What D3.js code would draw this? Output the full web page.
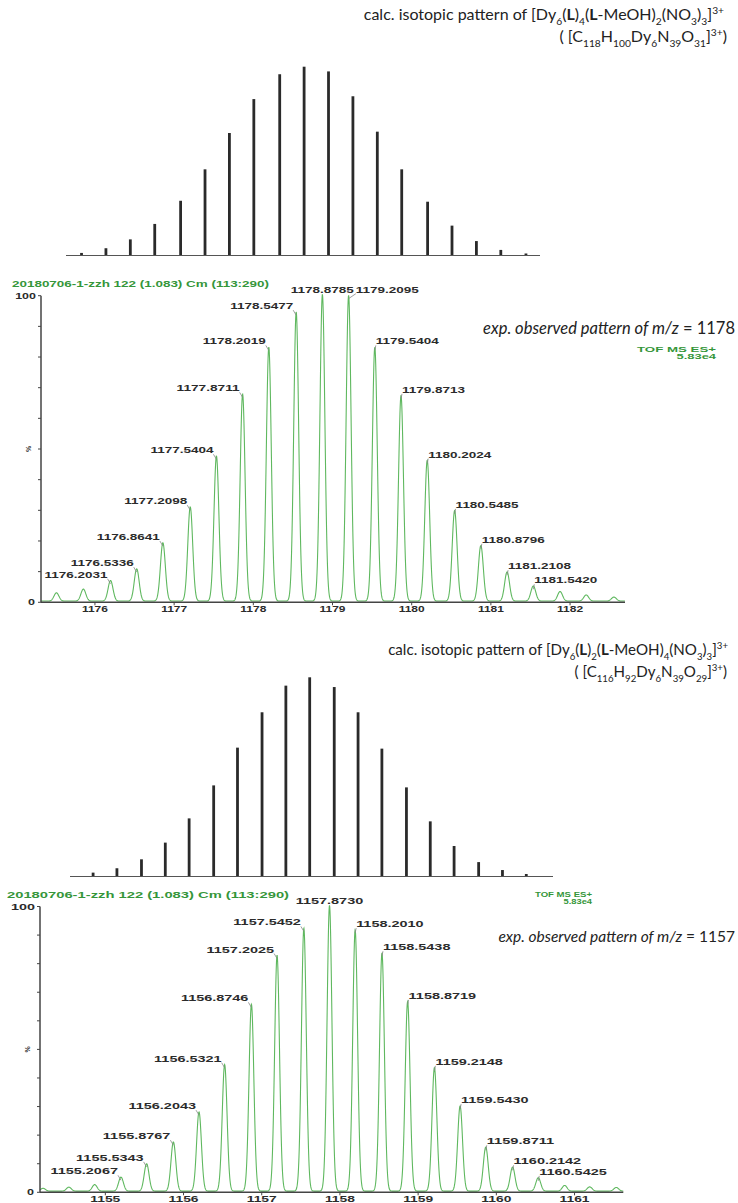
<!DOCTYPE html>
<html lang="en">
<head>
<meta charset="utf-8">
<title>Isotopic patterns: calc. vs exp.</title>
<script src="https://cdn.jsdelivr.net/npm/d3@7"></script>
<style>
  body { margin: 0; background: #fff; }
  .lbl { font-family: "Liberation Sans", Arial, sans-serif; font-weight: bold; fill: #2b2b2b; }
  .hdr { font-family: "Liberation Sans", Arial, sans-serif; font-weight: bold; fill: #35963a; }
  .cap { font-family: Lato, "Open Sans", sans-serif; fill: #222; }
</style>
</head>
<body>
<script>
// ---- panel 1 : m/z 1178 ----
var calc1Mz = [1175.87, 1176.20, 1176.53, 1176.86, 1177.21, 1177.54, 1177.87, 1178.20, 1178.55, 1178.88,
               1179.21, 1179.54, 1179.87, 1180.20, 1180.55, 1180.88, 1181.21, 1181.54, 1181.88];
var calc1Int = [1.1, 3.6, 8.3, 16.5, 28.8, 45.5, 64.8, 82.8, 96, 100,
                97.5, 84.3, 65.5, 45.5, 28.3, 15.6, 7.4, 2.7, 0.8];
var obs1Mz = [1175.52, 1175.86, 1176.2031, 1176.5336, 1176.8641, 1177.2098, 1177.5404, 1177.8711, 1178.2019,
              1178.5477, 1178.8785, 1179.2095, 1179.5404, 1179.8713, 1180.2024, 1180.5485, 1180.8796,
              1181.2108, 1181.5420, 1181.88, 1182.21, 1182.56];
var obs1Int = [2.7, 3.9, 6.7, 10.5, 19, 30.7, 47.3, 67.5, 82.8, 94.3, 100, 99.7, 82.8, 67, 45.9, 29.5,
               18.1, 9.5, 4.9, 3.1, 2, 1.3];
var obs1Labels = ["1176.2031", "1176.5336", "1176.8641", "1177.2098", "1177.5404", "1177.8711", "1178.2019",
                  "1178.5477", "1178.8785", "1179.2095", "1179.5404", "1179.8713", "1180.2024", "1180.5485",
                  "1180.8796", "1181.2108", "1181.5420"];
var ticks1 = [1176, 1177, 1178, 1179, 1180, 1181, 1182];

// ---- panel 2 : m/z 1157 ----
var calc2Mz = [1154.87, 1155.20, 1155.54, 1155.87, 1156.20, 1156.54, 1156.87, 1157.21, 1157.54, 1157.87,
               1158.21, 1158.54, 1158.87, 1159.21, 1159.54, 1159.87, 1160.21, 1160.54, 1160.87];
var calc2Int = [1.7, 3.9, 8.4, 16.8, 29.0, 45.6, 64.6, 82.4, 95.8, 100,
                95.1, 82.4, 64.1, 44.6, 27.5, 15.1, 7.0, 3.0, 1.0];
var obs2Mz = [1154.21, 1154.54, 1154.87, 1155.2067, 1155.5343, 1155.8767, 1156.2043, 1156.5321, 1156.8746,
              1157.2025, 1157.5452, 1157.8730, 1158.2010, 1158.5438, 1158.8719, 1159.2148, 1159.5430,
              1159.8711, 1160.2142, 1160.5425, 1160.88, 1161.20, 1161.54];
var obs2Int = [1, 1.4, 2.3, 4.9, 9.6, 17.2, 27.7, 44.3, 65.4, 82.5, 92, 100, 91.4, 83.3, 66.3, 43.2, 29.8,
               15.4, 8.4, 4.7, 2, 1.5, 1.3];
var obs2Labels = ["1155.2067", "1155.5343", "1155.8767", "1156.2043", "1156.5321", "1156.8746", "1157.2025",
                  "1157.5452", "1157.8730", "1158.2010", "1158.5438", "1158.8719", "1159.2148", "1159.5430",
                  "1159.8711", "1160.2142", "1160.5425"];
var ticks2 = [1155, 1156, 1157, 1158, 1159, 1160, 1161];

var runHeader = "20180706-1-zzh 122 (1.083) Cm (113:290)";

var W = 738, H = 1203;
var svg = d3.select("body").append("svg").attr("width", W).attr("height", H);

// rich text: segments [text, kind] where kind = sub | sup | b
function richText(x, y, segs, size, anchor) {
	var t = svg.append("text").attr("class", "cap").attr("x", x).attr("y", y)
		.attr("font-size", size).attr("text-anchor", anchor);
	var shift = 0;
	segs.forEach(function (s) {
		var target = s[1] == "sub" ? size * 0.3 : s[1] == "sup" ? -size * 0.38 : 0;
		var sp = t.append("tspan").attr("dy", target - shift).text(s[0]);
		shift = target;
		if (s[1] == "sub" || s[1] == "sup") sp.attr("font-size", size * 0.64);
		if (s[1] == "b") sp.attr("font-weight", "bold");
	});
	return t;
}

// MassLynx-style stretched text
function mlText(g, cls, x, y, str, size, len, anchor) {
	return g.append("text").attr("class", cls).attr("x", x).attr("y", y)
		.attr("font-size", size).attr("text-anchor", anchor || "start")
		.attr("textLength", len).attr("lengthAdjust", "spacingAndGlyphs").text(str);
}

function drawSticks(mz, inten, x0, x1, yBase, yTop, domain) {
	var xs = d3.scaleLinear().domain(domain).range([x0, x1]);
	var ys = d3.scaleLinear().domain([0, 100]).range([yBase, yTop]);
	var g = svg.append("g");
	g.append("line").attr("x1", x0).attr("x2", x1).attr("y1", yBase + 0.5).attr("y2", yBase + 0.5)
		.attr("stroke", "#555").attr("stroke-width", 1.2);
	g.selectAll("line.stick").data(mz).enter().append("line").attr("class", "stick")
		.attr("x1", d => xs(d)).attr("x2", d => xs(d))
		.attr("y1", yBase).attr("y2", (d, i) => ys(inten[i]))
		.attr("stroke", "#2a2a2a").attr("stroke-width", 2.8);
}

function drawSpectrum(c) {
	var x = d3.scaleLinear().domain(c.domain).range([c.left, c.right]);
	var y = d3.scaleLinear().domain([0, 100]).range([c.y0, c.y100]);
	var g = svg.append("g");

	// profile built from the centroid list
	var sigma = 0.031;
	var pts = d3.range(c.domain[0], c.domain[1], 0.003).map(function (m) {
		var v = 0;
		c.mz.forEach(function (p, i) {
			var d = (m - p) / sigma;
			v += c.inten[i] * Math.exp(-0.5 * d * d);
		});
		return [m, v + 0.4];
	});
	g.append("path").datum(pts)
		.attr("d", d3.line().x(d => x(d[0])).y(d => y(d[1])))
		.attr("fill", "none").attr("stroke", "#5fb85f").attr("stroke-width", 1.1);

	// axes
	g.append("line").attr("x1", c.left).attr("x2", c.left).attr("y1", c.y0).attr("y2", c.y100)
		.attr("stroke", "#444").attr("stroke-width", 1.5);
	g.append("line").attr("x1", c.left).attr("x2", c.right).attr("y1", c.y0).attr("y2", c.y0)
		.attr("stroke", "#444").attr("stroke-width", 1.5);
	g.selectAll("line.yt").data(d3.range(0, 101, 10)).enter().append("line").attr("class", "yt")
		.attr("x1", c.left - 3).attr("x2", c.left).attr("y1", d => y(d)).attr("y2", d => y(d))
		.attr("stroke", "#444");
	var xt = d3.axisBottom(x).tickValues(c.ticks).tickFormat(d3.format("d")).tickSize(3).tickPadding(0);
	var ax = g.append("g").attr("transform", "translate(0," + c.y0 + ")").call(xt);
	ax.select(".domain").remove();
	ax.selectAll("line").attr("stroke", "#444");
	ax.selectAll("text").attr("class", "lbl").attr("font-size", 8.5).attr("fill", "#2b2b2b")
		.attr("y", 9.8).attr("dy", 0)
		.attr("textLength", c.tickLen).attr("lengthAdjust", "spacingAndGlyphs");

	mlText(g, "lbl", c.left - 5, y(100) + 3, "100", 8.5, c.tickLen * 0.8, "end");
	mlText(g, "lbl", c.left - 6, y(0) + 3, "0", 8.5, 7, "end");
	g.append("text").attr("class", "lbl").attr("font-size", 7)
		.attr("transform", "translate(" + (c.left - 10) + "," + y(50) + ") rotate(-90)")
		.attr("text-anchor", "middle").text("%");

	// header
	mlText(g, "hdr", c.hdrX, c.hdrY, runHeader, 8.5, c.hdrLen);
	mlText(g, "hdr", c.tofX, c.tofY, "TOF MS ES+", 6.8, c.tofLen, "end");
	mlText(g, "hdr", c.tofX, c.tofY + 7, "5.83e4", 6.8, c.tofLen * 0.5, "end").attr("font-weight", "normal");

	// peak labels
	var imax = d3.maxIndex(c.inten);
	var maxBox = null;
	c.labels.forEach(function (lab) {
		var i = c.mz.findIndex(m => Math.abs(m - (+lab)) < 1e-6);
		var px = x(c.mz[i]), py = y(c.inten[i]);
		var w = c.labLen;
		var tx, ty = py - 4, lx1, ly1;
		if (i == imax) {
			tx = px - w / 2; ty = py - 3;
			maxBox = [tx, tx + w, ty];
			mlText(g, "lbl", tx, ty, lab, 8.5, w);
			return;
		} else if (i < imax) {
			tx = px - 3 - w; lx1 = px - 3;
		} else {
			tx = px + 1; lx1 = px + 1;
			if (maxBox && ty - maxBox[2] < 9) { tx = maxBox[1] + 2; ty = maxBox[2]; lx1 = tx; }
		}
		ly1 = ty + 1;
		mlText(g, "lbl", tx, ty, lab, 8.5, w);
		g.append("line").attr("x1", lx1).attr("y1", ly1).attr("x2", px).attr("y2", py + 2)
			.attr("stroke", "#888").attr("stroke-width", 0.8);
	});

	// caption
	var cap = g.append("text").attr("class", "cap").attr("x", c.capX).attr("y", c.capY)
		.attr("font-size", c.capSize).attr("text-anchor", "end");
	cap.append("tspan").attr("font-style", "italic").text("exp. observed pattern of m/z");
	cap.append("tspan").text(" = " + c.capNum);
}

// ---- panel 1 ----
richText(724, 20, [["calc. isotopic pattern of [Dy"], ["6", "sub"], ["("], ["L", "b"], [")"], ["4", "sub"],
	["("], ["L", "b"], ["-MeOH)"], ["2", "sub"], ["(NO"], ["3", "sub"], [")"], ["3", "sub"], ["]"], ["3+", "sup"]], 16, "end");
richText(727, 42, [["( [C"], ["118", "sub"], ["H"], ["100", "sub"], ["Dy"], ["6", "sub"], ["N"], ["39", "sub"],
	["O"], ["31", "sub"], ["]"], ["3+", "sup"], [")"]], 16, "end");
drawSticks(calc1Mz, calc1Int, 66, 540, 255, 66.7, [1175.66, 1182.07]);
drawSpectrum({
	mz: obs1Mz, inten: obs1Int, labels: obs1Labels, ticks: ticks1,
	domain: [1175.325, 1182.70], left: 41, right: 625, y0: 602.3, y100: 295.7,
	labLen: 63, tickLen: 26,
	hdrX: 12, hdrY: 287, hdrLen: 257, tofX: 716, tofY: 352, tofLen: 79,
	capX: 735, capY: 334, capSize: 16.5, capNum: "1178"
});

// ---- panel 2 ----
richText(728, 655, [["calc. isotopic pattern of [Dy"], ["6", "sub"], ["("], ["L", "b"], [")"], ["2", "sub"],
	["("], ["L", "b"], ["-MeOH)"], ["4", "sub"], ["(NO"], ["3", "sub"], [")"], ["3", "sub"], ["]"], ["3+", "sup"]], 15.1, "end");
richText(727, 677, [["( [C"], ["116", "sub"], ["H"], ["92", "sub"], ["Dy"], ["6", "sub"], ["N"], ["39", "sub"],
	["O"], ["29", "sub"], ["]"], ["3+", "sup"], [")"]], 15.1, "end");
drawSticks(calc2Mz, calc2Int, 70, 553, 876, 677.3, [1154.55, 1161.24]);
drawSpectrum({
	mz: obs2Mz, inten: obs2Int, labels: obs2Labels, ticks: ticks2,
	domain: [1154.171, 1161.63], left: 40, right: 623.3, y0: 1192.3, y100: 906.5,
	labLen: 67.5, tickLen: 30,
	hdrX: 7, hdrY: 898, hdrLen: 282, tofX: 592, tofY: 897, tofLen: 57,
	capX: 735, capY: 942, capSize: 15.5, capNum: "1157"
});
</script>
</body>
</html>
